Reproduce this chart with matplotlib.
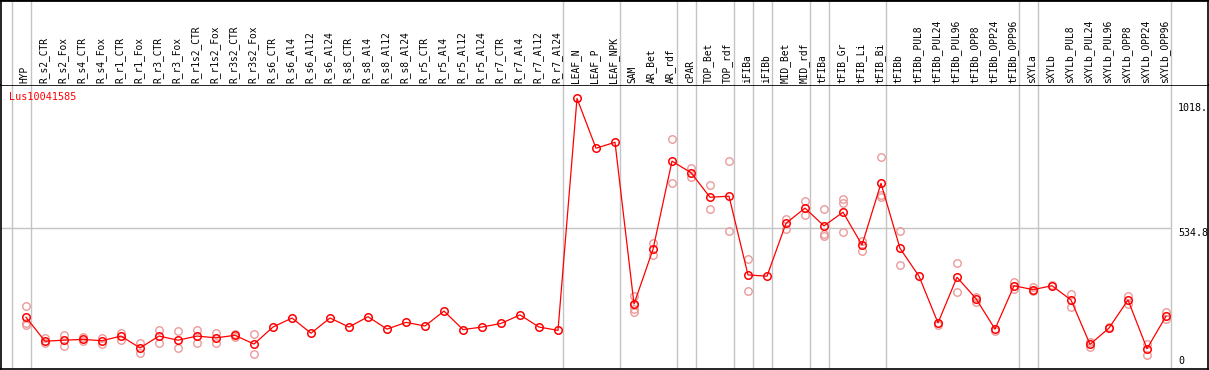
import matplotlib
matplotlib.use("Agg")
import matplotlib.pyplot as plt
import matplotlib.transforms as mtransforms

gene = "Lus10041585"

samples = [
    "HYP", "R_s2_CTR", "R_s2_Fox", "R_s4_CTR", "R_s4_Fox", "R_r1_CTR", "R_r1_Fox",
    "R_r3_CTR", "R_r3_Fox", "R_r1s2_CTR", "R_r1s2_Fox", "R_r3s2_CTR", "R_r3s2_Fox",
    "R_s6_CTR", "R_s6_Al4", "R_s6_Al12", "R_s6_Al24", "R_s8_CTR", "R_s8_Al4",
    "R_s8_Al12", "R_s8_Al24", "R_r5_CTR", "R_r5_Al4", "R_r5_Al12", "R_r5_Al24",
    "R_r7_CTR", "R_r7_Al4", "R_r7_Al12", "R_r7_Al24", "LEAF_N", "LEAF_P", "LEAF_NPK",
    "SAM", "AR_Bet", "AR_rdf", "cPAR", "TOP_Bet", "TOP_rdf", "iFIBa", "iFIBb",
    "MID_Bet", "MID_rdf", "tFIBa", "tFIB_Gr", "tFIB_Li", "tFIB_Bi", "tFIBb",
    "tFIBb_PUL8", "tFIBb_PUL24", "tFIBb_PUL96", "tFIBb_OPP8", "tFIBb_OPP24", "tFIBb_OPP96",
    "sXYLa", "sXYLb", "sXYLb_PUL8", "sXYLb_PUL24", "sXYLb_PUL96", "sXYLb_OPP8",
    "sXYLb_OPP24", "sXYLb_OPP96",
]

means = [
    189, 96, 100, 103, 98, 116, 70, 116, 100, 116, 109, 119, 85,
    151, 186, 127, 186, 151, 191, 143, 169, 155, 213, 141, 151, 165, 198, 151, 138,
    1037, 844, 867,
    240, 452, 794, 749, 654, 658, 353, 348, 553, 612,
    543, 596, 469, 708, 456,
    348, 167, 344, 261, 143, 311,
    296, 311,
    256, 84, 147, 256, 67, 193,
]

replicates = [
    [234, 167, 159], [110, 89], [119, 79], [114, 98], [107, 85], [129, 101], [90, 49],
    [140, 90], [136, 70], [140, 90], [127, 88], [124, 114], [124, 47],
    [], [], [], [], [], [], [], [], [], [], [], [], [], [], [], [],
    [], [], [],
    [271, 236, 222, 210], [478, 429], [879, 708], [768, 734], [700, 607], [793, 522],
    [413, 291], [], [571, 532], [639, 584],
    [608, 512, 504], [646, 631, 518], [486, 447], [810, 663, 654], [522, 390],
    [], [159], [399, 287], [269, 249], [134], [327, 298],
    [305, 289], [315],
    [278, 230], [94, 75], [152], [271, 240], [85, 43], [208, 182],
]

# group separators sit just after these sample indices
group_ends = [-1, 0, 28, 31, 34, 35, 37, 38, 39, 41, 42, 45, 52, 53, 60]

y_labels = [1018, 534.8, 0]

W, H = 1209, 370
fig = plt.figure(figsize=(W / 100, H / 100), dpi=100)
fig.patch.set_facecolor("white")

xlim = ((1 - 26) / 19, (1208 - 26) / 19)
ylim = (-3 * 3.8754, 281 * 3.8754)

ax = fig.add_axes([1 / W, 1 / H, 1207 / W, 284 / H])
hax = fig.add_axes([1 / W, 285 / H, 1207 / W, 85 / H])

mono = "DejaVu Sans Mono"
grid_c = "#c4c4c4"

for a in (ax, hax):
    a.set_xlim(*xlim)
    a.set_xticks([])
    a.set_yticks([])
    for s in a.spines.values():
        s.set_color("black")
        s.set_linewidth(1.2)
    for g in group_ends:
        a.axvline(g + 0.25, color=grid_c, lw=1.0, zorder=1)

hax.set_ylim(0, 1)
hax.spines["bottom"].set_visible(False)
hax.spines["top"].set_linewidth(2.0)

ax.set_ylim(*ylim)
ax.hlines(534.8, xlim[0], 60.25, color=grid_c, lw=1.0, zorder=1)

x = list(range(len(samples)))

# header labels
trans = mtransforms.blended_transform_factory(hax.transData, hax.transAxes)
for i, name in enumerate(samples):
    hax.text(i - 0.06, 2 / 85, name, rotation=90, ha="center", va="bottom",
             fontsize=6.9, family=mono, color="black", transform=trans)

# replicate points
for i, reps in enumerate(replicates):
    if reps:
        ax.plot([i] * len(reps), reps, linestyle="none", marker="o", ms=5.4,
                mfc="none", mec="#eb9a9a", mew=1.0, zorder=3)

# mean line
ax.plot(x, means, color="red", lw=0.9, marker="o", ms=5.4, mfc="none",
        mec="red", mew=1.1, zorder=4)

# gene name
ax.text(-0.9, 1089 - 12.3 * 3.8754, gene, color="red", fontsize=7.3, family=mono,
        ha="left", va="center")

# value labels on the right
lab_x = (1178 - 26) / 19
for v in y_labels:
    txt = "1018." if v == 1018 else ("0" if v == 0 else str(v))
    ax.text(lab_x, v, txt, fontsize=7.2, family=mono, color="black",
            ha="left", va="bottom" if v == 0 else "top", clip_on=True)

fig.savefig("out.png", dpi=100)
